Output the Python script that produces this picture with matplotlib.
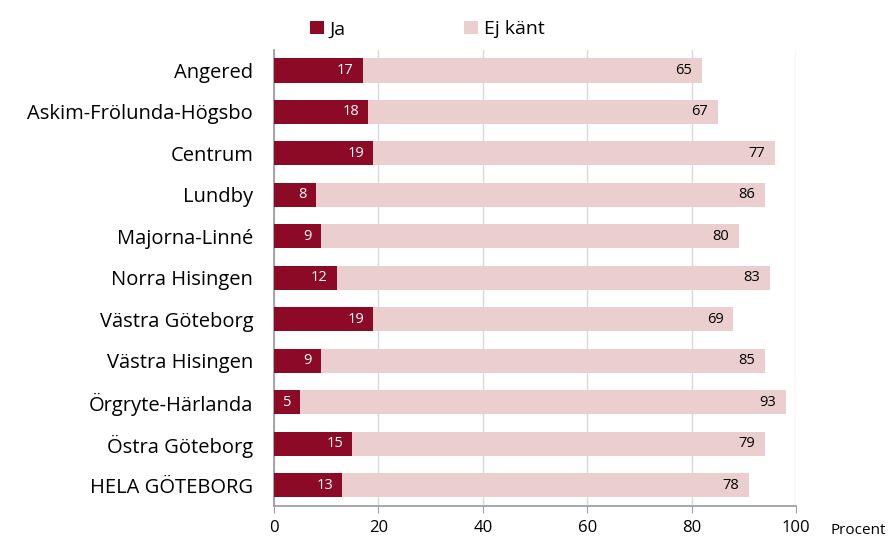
import numpy as np
import matplotlib.pyplot as plt

# data
areas = ["Angered", "Askim-Frölunda-Högsbo", "Centrum", "Lundby", "Majorna-Linné",
         "Norra Hisingen", "Västra Göteborg", "Västra Hisingen", "Örgryte-Härlanda",
         "Östra Göteborg", "HELA GÖTEBORG"]
ja = [17, 18, 19, 8, 9, 12, 19, 9, 5, 15, 13]
ej_kant = [65, 67, 77, 86, 80, 83, 69, 85, 93, 79, 78]

plt.rcParams['font.family'] = ['Open Sans', 'DejaVu Sans']

fig = plt.figure(figsize=(8.94, 5.41), dpi=100)
ax = fig.add_axes([0.3065, 0.0647, 0.5839, 0.8433])

y = np.arange(len(areas))
dark = "#8C0A26"
light = "#EBCFCF"
b1 = ax.barh(y, ja, height=0.58, color=dark, label="Ja", zorder=3)
b2 = ax.barh(y, ej_kant, left=ja, height=0.58, color=light, label="Ej känt", zorder=3)

# labels at inside end of each segment
for i in range(len(areas)):
    ax.text(ja[i] - 1.7, y[i], str(ja[i]), ha='right', va='center',
            color='white', fontsize=10.5, zorder=4)
    ax.text(ja[i] + ej_kant[i] - 1.9, y[i], str(ej_kant[i]), ha='right', va='center',
            color='black', fontsize=10.5, zorder=4)

ax.set_ylim(len(areas) - 0.5, -0.5)
ax.set_xlim(0, 100)
ax.set_xticks([0, 20, 40, 60, 80, 100])
ax.set_yticks(y)
ax.set_yticklabels(areas, fontsize=14.5)
ax.tick_params(axis='y', length=0, pad=15)
ax.tick_params(axis='x', labelsize=12, length=5, color='#A0A0A0', pad=5)
ax.grid(axis='x', color='#D9D9D9', linewidth=1, zorder=0)
for s in ['top', 'right']:
    ax.spines[s].set_visible(False)
ax.spines['left'].set_color('#A0A0A0')
ax.spines['bottom'].set_color('#A0A0A0')
ax.spines['left'].set_linewidth(1.3)
ax.spines['bottom'].set_linewidth(1.3)

fig.text(831 / 894, 1 - 538 / 541, "Procent", fontsize=11, ha='left', va='bottom')

ax.legend(handles=[b1, b2], loc='lower left', bbox_to_anchor=(0.043, 0.995), ncol=2,
          frameon=False, fontsize=14, handlelength=0.7, handleheight=0.7,
          handletextpad=0.3, columnspacing=6.1, borderaxespad=0.3)

fig.savefig("out.png", dpi=100)
